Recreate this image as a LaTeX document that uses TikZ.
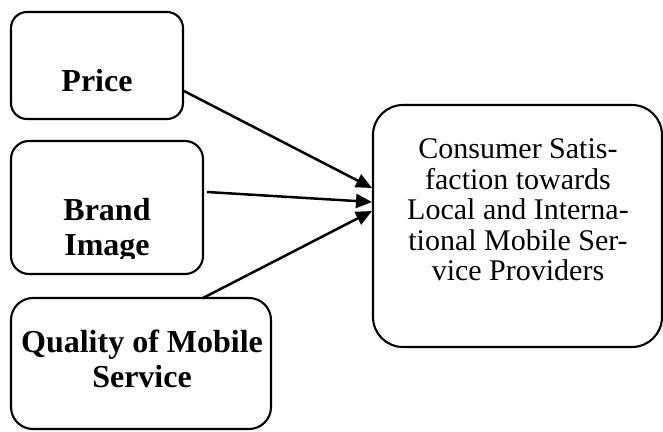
\documentclass[tikz,border=0pt]{standalone}
\usepackage{fontspec}
\setmainfont{Liberation Serif}
\usetikzlibrary{arrows.meta}
\begin{document}
\begin{tikzpicture}[x=1pt,y=-1pt,
  box/.style={draw=black,line width=2.1pt,inner sep=0pt,outer sep=0pt},
  lbl/.style={font=\fontsize{32}{35}\selectfont\bfseries,align=center,inner sep=0pt},
  rlbl/.style={font=\fontsize{30}{30.5}\selectfont,align=center,inner sep=0pt},
  conn/.style={line width=2.5pt,-{Triangle[length=16pt,width=14pt]}}]
\useasboundingbox (0,0) rectangle (663,431);
\node[box,rounded corners=16pt,minimum width=172pt,minimum height=107pt] (price) at (97,65.5) {};
\node[box,rounded corners=18pt,minimum width=192pt,minimum height=133pt] (brand) at (107,207.5) {};
\node[box,rounded corners=22pt,minimum width=260pt,minimum height=131pt] (quality) at (141,363.5) {};
\node[box,rounded corners=30pt,minimum width=289pt,minimum height=242pt] (cs) at (517.5,226) {};
\node[lbl,anchor=base] (pricet) at (97,91) {Price};
\begin{scope}
\clip (12,142) rectangle (202,258);
\node[lbl] (brandt) at (107,230) {Brand\\Image};
\end{scope}
\node[lbl] (qualityt) at (142,359) {Quality of Mobile\\Service};
\node[rlbl] (cst) at (518,210) {Consumer Satis-\\faction towards\\Local and Interna-\\tional Mobile Ser-\\vice Providers};
\coordinate (p1) at (184,91);
\coordinate (b1) at (207,192);
\coordinate (q1) at (203,298);
\coordinate (pt) at (372,188);
\coordinate (bt) at (372,202);
\coordinate (qt) at (372,211);
\draw[conn] (p1) -- (pt);
\draw[conn] (b1) -- (bt);
\draw[conn] (q1) -- (qt);
\end{tikzpicture}
\end{document}
